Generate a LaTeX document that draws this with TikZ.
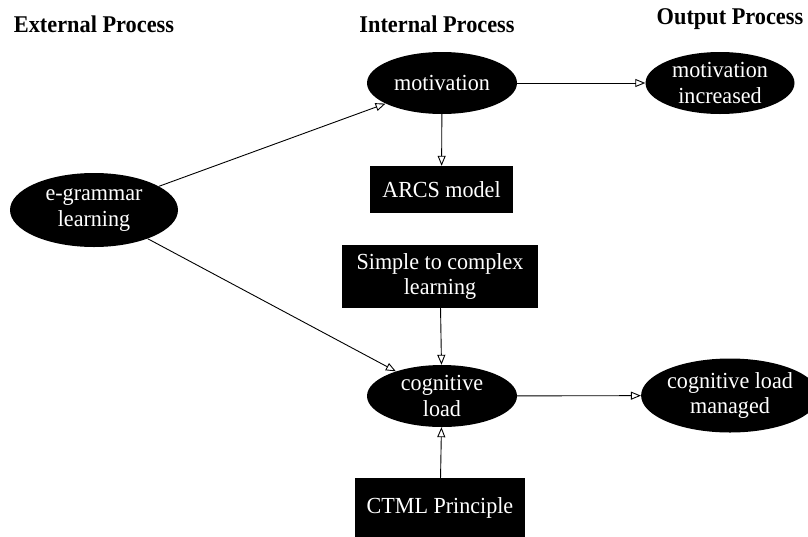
\documentclass[tikz,border=0pt]{standalone}
\usepackage{fontspec}
\setmainfont{Liberation Serif}[FakeStretch=0.96]
\newfontfamily\hdrfont{Liberation Serif}[FakeStretch=0.93]
\usetikzlibrary{shapes.geometric,arrows.meta}
\tikzset{
  oval/.style={ellipse, fill=black, text=white, inner sep=0pt, align=center,
    font=\fontsize{23}{25.5}\selectfont},
  blackbox/.style={rectangle, fill=black, text=white, inner sep=0pt, align=center,
    font=\fontsize{23}{25.5}\selectfont},
  header/.style={font=\hdrfont\bfseries\fontsize{24}{26}\selectfont, inner sep=0pt},
  link/.style={draw=black, line width=0.9pt, -{Triangle[open, length=10pt, width=8pt]}}
}
\begin{document}
\begin{tikzpicture}[x=1pt, y=-1pt]
\useasboundingbox (0,0) rectangle (808,536);
\node[header] (h1) at (94,24) {External Process};
\node[header] (h2) at (437,24) {Internal Process};
\node[header] (h3) at (730,19.5) {Output Process};

\node[oval, minimum width=168pt, minimum height=74pt] (egram) at (94,210) {e-grammar\\learning};
\node[oval, minimum width=150pt, minimum height=62pt] (motiv) at (442,83) {motivation};
\node[oval, minimum width=149pt, minimum height=62pt] (motinc) at (720,83) {motivation\\increased};
\node[blackbox, minimum width=143pt, minimum height=47pt] (arcs) at (441.5,189.5) {ARCS model};
\node[blackbox, minimum width=196pt, minimum height=63pt] (simple) at (440,276.5) {Simple to complex\\learning};
\node[oval, minimum width=150pt, minimum height=62pt] (cog) at (442,396) {cognitive\\load};
\node[blackbox, minimum width=170pt, minimum height=59pt] (ctml) at (440,507.5) {CTML Principle};
\node[oval, minimum width=170pt, minimum height=74pt] (cogman) at (730,395.5) {cognitive load\\managed};

\draw[link] (egram) -- (motiv);
\draw[link] (egram) -- (cog);
\draw[link] (motiv) -- (motinc);
\draw[link] (motiv) -- (arcs);
\draw[link] (simple) -- (cog);
\draw[link] (ctml) -- (cog);
\draw[link] (cog) -- (cogman);
\end{tikzpicture}
\end{document}
